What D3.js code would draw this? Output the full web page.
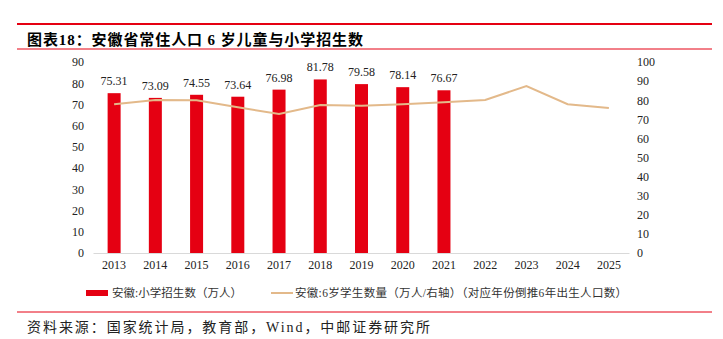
<!DOCTYPE html>
<html>
<head>
<meta charset="utf-8">
<script src="https://cdn.jsdelivr.net/npm/d3@7/dist/d3.min.js"></script>
<style>
  body { margin: 0; background: #fff; }
  text { font-family: "Liberation Serif", "Noto Sans CJK SC", serif; }
</style>
</head>
<body>
<svg id="chart" width="723" height="339"></svg>
<script>
var years = ["2013", "2014", "2015", "2016", "2017", "2018", "2019", "2020", "2021", "2022", "2023", "2024", "2025"];
var enrolYears = ["2013", "2014", "2015", "2016", "2017", "2018", "2019", "2020", "2021"];
var enrolment = [75.31, 73.09, 74.55, 73.64, 76.98, 81.78, 79.58, 78.14, 76.67];
var sixYearOlds = [77.9, 80.1, 80.0, 76.3, 72.8, 77.5, 77.1, 77.9, 78.9, 80.1, 87.4, 77.9, 75.9];
var leftTicks = [0, 10, 20, 30, 40, 50, 60, 70, 80, 90];
var rightTicks = [0, 10, 20, 30, 40, 50, 60, 70, 80, 90, 100];

var red = "#e50012", tan = "#e3b98a";
var svg = d3.select("#chart");

// header
svg.append("line").attr("x1", 17).attr("x2", 712).attr("y1", 24).attr("y2", 24)
    .attr("stroke", red).attr("stroke-width", 2);
svg.append("text").attr("x", 27).attr("y", 45)
    .attr("font-size", 15).attr("font-weight", "bold").attr("fill", "#000")
    .attr("textLength", 336).attr("lengthAdjust", "spacing")
    .text("图表18：安徽省常住人口 6 岁儿童与小学招生数");
svg.append("line").attr("x1", 17).attr("x2", 712).attr("y1", 49).attr("y2", 49)
    .attr("stroke", red).attr("stroke-width", 1);

var x = d3.scaleBand().domain(years).range([93.5, 629.5]);
var yL = d3.scaleLinear().domain([0, 90]).range([253, 62]);
var yR = d3.scaleLinear().domain([0, 100]).range([253, 62]);

// left axis
var gl = svg.append("g").attr("transform", "translate(84,0)")
    .call(d3.axisLeft(yL).tickValues(leftTicks).tickSize(0).tickPadding(0));
gl.select(".domain").remove();
gl.selectAll("text").attr("font-size", 12).attr("fill", "#222")
    .style("font-family", "Liberation Serif");

// right axis
var gr = svg.append("g").attr("transform", "translate(637,0)")
    .call(d3.axisRight(yR).tickValues(rightTicks).tickSize(0).tickPadding(0));
gr.select(".domain").remove();
gr.selectAll("text").attr("font-size", 12).attr("fill", "#222")
    .style("font-family", "Liberation Serif");

// bars
var bw = 13;
svg.append("g").selectAll("rect").data(enrolment).enter().append("rect")
    .attr("x", function(d, i) { return x(enrolYears[i]) + x.bandwidth() / 2 - bw / 2; })
    .attr("y", function(d) { return yL(d); })
    .attr("width", bw)
    .attr("height", function(d) { return yL(0) - yL(d); })
    .attr("fill", red);

svg.append("g").selectAll("text").data(enrolment).enter().append("text")
    .attr("x", function(d, i) { return x(enrolYears[i]) + x.bandwidth() / 2; })
    .attr("y", function(d) { return yL(d) - 8; })
    .attr("text-anchor", "middle").attr("font-size", 12).attr("fill", "#222")
    .text(function(d) { return d.toFixed(2); });

// baseline
svg.append("line").attr("x1", 93.5).attr("x2", 629.5).attr("y1", 253.5).attr("y2", 253.5)
    .attr("stroke", "#d9d9d9").attr("stroke-width", 1);

// x axis labels
var gx = svg.append("g").attr("transform", "translate(0,254)")
    .call(d3.axisBottom(x).tickSize(0).tickPadding(6));
gx.select(".domain").remove();
gx.selectAll("text").attr("font-size", 12).attr("fill", "#222")
    .style("font-family", "Liberation Serif");

// line
var line = d3.line()
    .x(function(d, i) { return x(years[i]) + x.bandwidth() / 2; })
    .y(function(d) { return yR(d); });
svg.append("path").datum(sixYearOlds).attr("d", line)
    .attr("fill", "none").attr("stroke", tan).attr("stroke-width", 2);

// legend
svg.append("rect").attr("x", 86).attr("y", 290).attr("width", 22).attr("height", 6).attr("fill", red);
svg.append("text").attr("x", 112).attr("y", 297).attr("font-size", 11.5).attr("fill", "#333")
    .attr("textLength", 130).attr("lengthAdjust", "spacing")
    .text("安徽:小学招生数（万人）");
svg.append("line").attr("x1", 271).attr("x2", 293).attr("y1", 293).attr("y2", 293)
    .attr("stroke", tan).attr("stroke-width", 2);
svg.append("text").attr("x", 295).attr("y", 297).attr("font-size", 11.5).attr("fill", "#333")
    .attr("textLength", 332).attr("lengthAdjust", "spacing")
    .text("安徽:6岁学生数量（万人/右轴）（对应年份倒推6年出生人口数）");

// footer
svg.append("line").attr("x1", 17).attr("x2", 712).attr("y1", 312).attr("y2", 312)
    .attr("stroke", red).attr("stroke-width", 1);
svg.append("text").attr("x", 27).attr("y", 332).attr("font-size", 14).attr("fill", "#222")
    .attr("textLength", 403).attr("lengthAdjust", "spacing")
    .text("资料来源：国家统计局，教育部，Wind，中邮证券研究所");
</script>
</body>
</html>
